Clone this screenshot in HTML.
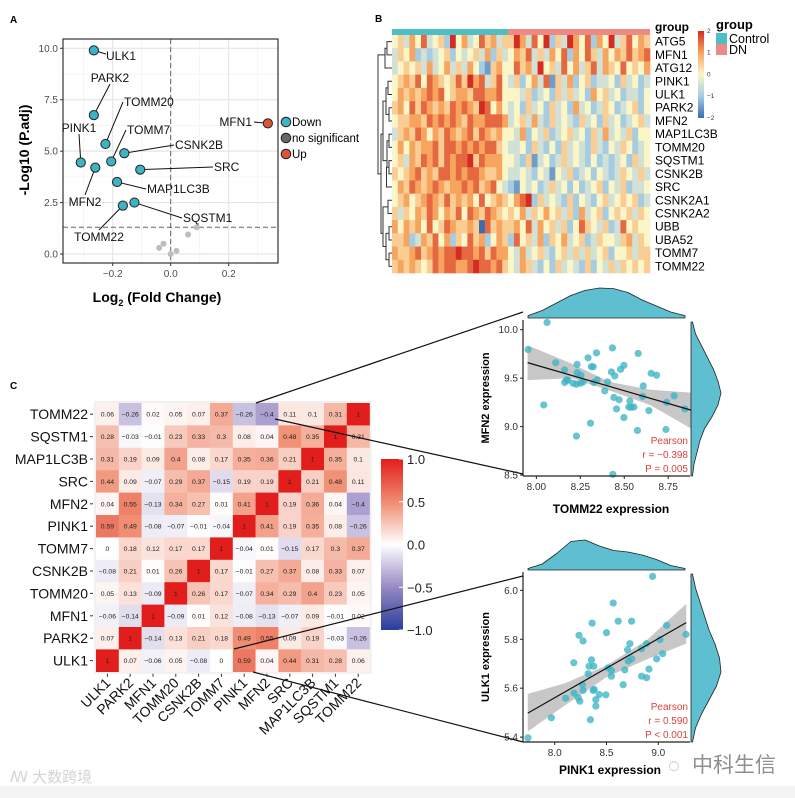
<!DOCTYPE html>
<html><head><meta charset="utf-8">
<style>
html,body{margin:0;padding:0;background:#fff;}
svg{display:block;font-family:"Liberation Sans","Noto Sans CJK SC",sans-serif;}
</style></head>
<body>
<svg id="fig" width="795" height="798" viewBox="0 0 795 798" xmlns="http://www.w3.org/2000/svg">
<rect x="0" y="0" width="795" height="798" fill="#fff"/>
<rect x="0" y="786" width="795" height="12" fill="#f3f3f3"/>
<g id="gA"></g>
<g id="gB"></g>
<g id="gC"></g>
<g id="gS1"></g>
<g id="gS2"></g>
<text x="668" y="772" font-size="20" fill="#9a9a9a">◌</text>
<text x="692" y="772" font-size="21" fill="#8f8f8f">中科生信</text>
<text x="10" y="782" font-size="15" fill="#d4d4d4">ꟿ 大数跨境</text>
</svg>
<script>
// ---------- Volcano data ----------
const volGenes = ["ULK1","PARK2","TOMM20","PINK1","MFN2","TOMM7","CSNK2B","SRC","MAP1LC3B","SQSTM1","TOMM22","MFN1"];
const volLogFC = [-0.265,-0.265,-0.225,-0.31,-0.26,-0.205,-0.16,-0.105,-0.185,-0.125,-0.165,0.335];
const volLogP = [9.9,6.75,5.35,4.45,4.2,4.5,4.9,4.1,3.5,2.5,2.35,6.35];
const volStatus = ["Down","Down","Down","Down","Down","Down","Down","Down","Down","Down","Down","Up"];
const nsLogFC = [0.09,0.06,-0.025,-0.04,0.02,0.0];
const nsLogP = [1.3,0.95,0.5,0.3,0.15,0.0];
const volXTicks = [-0.2,0.0,0.2];
const volYTicks = [0.0,2.5,5.0,7.5,10.0];
// ---------- Heatmap data (digit 0..8 -> z = (d-4)/2) ----------
const hmGenes = ["ATG5","MFN1","ATG12","PINK1","ULK1","PARK2","MFN2","MAP1LC3B","TOMM20","SQSTM1","CSNK2B","SRC","CSNK2A1","CSNK2A2","UBB","UBA52","TOMM7","TOMM22"];
const hmControl = ["45364734528463475635","35462323452434536253","34545363463536421564","45657476545758673574","46565676745665776674","56475765657676587464","45566576767657667776","35657646576567576564","46465667577676767754","45365767576778576664","54567565776767765564","46576567656676756743","45645676575656474565","53546576465747657654","64656474576556507565","55623657462547562465","65567567677877675766","56565457677667877675"];
const hmDN = ["586374825386472648357465","465735364726475364657567","475638453746357365474546","352463715362452334253423","443523425353426453423324","342534253426342354234524","345363253432534253423453","436243523453425363435244","334253242534325324354234","432513423534324232342534","334324314352342432354353","214342353424234524352334","467825343252432453454523","546354645352634524545354","564736453524754352374544","274536254634523544356354","436345324535353452445355","436532425343252435354545"];
// ---------- Correlation data ----------
const corrRows = ["TOMM22","SQSTM1","MAP1LC3B","SRC","MFN2","PINK1","TOMM7","CSNK2B","TOMM20","MFN1","PARK2","ULK1"];
const corrCols = ["ULK1","PARK2","MFN1","TOMM20","CSNK2B","TOMM7","PINK1","MFN2","SRC","MAP1LC3B","SQSTM1","TOMM22"];
const corrVals = [
[0.06,-0.26,0.02,0.05,0.07,0.37,-0.26,-0.4,0.11,0.1,0.31,1],
[0.28,-0.03,-0.01,0.23,0.33,0.3,0.08,0.04,0.48,0.35,1,0.31],
[0.31,0.19,0.09,0.4,0.08,0.17,0.35,0.36,0.21,1,0.35,0.1],
[0.44,0.09,-0.07,0.29,0.37,-0.15,0.19,0.19,1,0.21,0.48,0.11],
[0.04,0.55,-0.13,0.34,0.27,0.01,0.41,1,0.19,0.36,0.04,-0.4],
[0.59,0.49,-0.08,-0.07,-0.01,-0.04,1,0.41,0.19,0.35,0.08,-0.26],
[0,0.18,0.12,0.17,0.17,1,-0.04,0.01,-0.15,0.17,0.3,0.37],
[-0.08,0.21,0.01,0.26,1,0.17,-0.01,0.27,0.37,0.08,0.33,0.07],
[0.05,0.13,-0.09,1,0.26,0.17,-0.07,0.34,0.29,0.4,0.23,0.05],
[-0.06,-0.14,1,-0.09,0.01,0.12,-0.08,-0.13,-0.07,0.09,-0.01,0.02],
[0.07,1,-0.14,0.13,0.21,0.18,0.49,0.55,0.09,0.19,-0.03,-0.26],
[1,0.07,-0.06,0.05,-0.08,0,0.59,0.04,0.44,0.31,0.28,0.06]];
const corrLegendTicks = [1.0,0.5,0.0,-0.5,-1.0];
// ---------- Scatter 1 (TOMM22 vs MFN2) ----------
const s1X = [8.061,7.953,8.042,8.110,8.160,8.171,8.161,8.180,8.232,8.232,8.253,8.228,8.209,8.251,8.294,8.313,8.323,8.342,8.346,8.327,8.266,8.308,8.228,8.389,8.405,8.433,8.427,8.446,8.441,8.471,8.456,8.479,8.498,8.498,8.526,8.539,8.555,8.532,8.579,8.575,8.608,8.604,8.640,8.653,8.684,8.737,8.741,8.784,8.845,8.435];
const s1Y = [10.075,9.795,9.223,9.659,9.584,9.482,9.455,9.478,9.642,9.557,9.530,9.437,9.448,9.448,9.710,9.618,9.618,9.761,9.482,9.455,9.461,9.035,8.902,9.369,9.461,9.812,9.564,9.523,9.301,9.277,9.182,9.591,9.632,9.093,9.202,9.199,9.202,9.264,9.755,8.960,9.420,9.311,9.165,9.550,9.530,8.970,9.250,9.318,9.182,8.507];
const s1FitX = [7.95,8.88];
const s1FitY = [9.66,9.17];
const s1CiX = [7.95,8.2,8.42,8.65,8.88];
const s1CiHi = [9.84,9.65,9.46,9.38,9.35];
const s1CiLo = [9.48,9.50,9.37,9.22,8.98];
const s1XTicks = [8.00,8.25,8.50,8.75];
const s1YTicks = [8.5,9.0,9.5,10.0];
const s1TopDens = [0.08,0.25,0.5,0.75,0.92,1,0.98,0.85,0.6,0.4,0.2,0.08];
const s1RightDens = [0.05,0.15,0.35,0.55,0.75,0.9,1,0.9,0.7,0.45,0.3,0.2,0.1,0.05];
const s1Stats = ["Pearson","r = \u22120.398","P = 0.005"];
// ---------- Scatter 2 (PINK1 vs ULK1) ----------
const s2X = [8.945,8.565,8.613,8.742,8.361,8.235,8.274,8.5,9.081,9.268,9.016,8.887,8.726,8.839,8.703,9.042,8.984,8.742,8.710,8.355,8.184,8.332,8.377,8.516,8.548,8.677,8.910,8.323,8.548,8.839,8.887,8.661,8.268,8.274,8.371,8.381,8.187,8.226,8.106,8.242,8.429,8.494,8.397,8.397,8.345,7.968,7.742];
const s2Y = [6.057,5.948,5.874,5.874,5.866,5.816,5.793,5.827,5.857,5.820,5.798,5.782,5.782,5.761,5.757,5.741,5.720,5.720,5.711,5.716,5.704,5.690,5.690,5.683,5.673,5.675,5.678,5.659,5.649,5.649,5.643,5.614,5.614,5.591,5.591,5.595,5.580,5.561,5.559,5.547,5.574,5.573,5.553,5.527,5.471,5.479,5.397];
const s2FitX = [7.74,9.27];
const s2FitY = [5.498,5.868];
const s2CiX = [7.74,8.1,8.5,8.9,9.27];
const s2CiHi = [5.577,5.62,5.693,5.80,5.945];
const s2CiLo = [5.423,5.53,5.645,5.72,5.782];
const s2XTicks = [8.0,8.5,9.0];
const s2YTicks = [5.4,5.6,5.8,6.0];
const s2TopDens = [0.05,0.2,0.55,0.95,1,0.8,0.65,0.6,0.5,0.35,0.15,0.05];
const s2RightDens = [0.05,0.15,0.3,0.45,0.6,0.8,0.95,1,0.85,0.6,0.35,0.15,0.05];
const s2Stats = ["Pearson","r = 0.590","P < 0.001"];

const NS="http://www.w3.org/2000/svg";
function mk(parent,tag,attrs,txt){const e=document.createElementNS(NS,tag);for(const k in attrs)e.setAttribute(k,attrs[k]);if(txt!==undefined)e.textContent=txt;parent.appendChild(e);return e;}
function lin(d0,d1,r0,r1){return v=>r0+(v-d0)*(r1-r0)/(d1-d0);}

// ================= Panel A: volcano =================
(function(){
const g=document.getElementById('gA');
const L=63,R=278,T=39,B=263;
const xs=lin(0,0.2,170.7,228.7), ys=lin(0,10,254,48.3);
let t=mk(g,'text',{x:10,y:23,'font-size':10,'font-weight':'bold'},'A');

mk(g,'rect',{x:L,y:T,width:R-L,height:B-T,fill:'#fff'});
// minor grid
[-0.3,-0.1,0.1,0.3].forEach(v=>mk(g,'line',{x1:xs(v),x2:xs(v),y1:T,y2:B,stroke:'#f3f3f3','stroke-width':0.8}));
[1.25,3.75,6.25,8.75].forEach(v=>mk(g,'line',{x1:L,x2:R,y1:ys(v),y2:ys(v),stroke:'#f3f3f3','stroke-width':0.8}));
volXTicks.forEach(v=>{mk(g,'line',{x1:xs(v),x2:xs(v),y1:T,y2:B,stroke:'#e6e6e6','stroke-width':1.2});
 mk(g,'line',{x1:xs(v),x2:xs(v),y1:B,y2:B+3,stroke:'#333'});
 const e=mk(g,'text',{x:xs(v),y:B+14,'font-size':10,'text-anchor':'middle',fill:'#4d4d4d'},v===0?'0.0':(v>0?'0.2':'\u22120.2'));
 });
volYTicks.forEach(v=>{mk(g,'line',{x1:L,x2:R,y1:ys(v),y2:ys(v),stroke:'#e6e6e6','stroke-width':1.2});
 mk(g,'line',{x1:L-3,x2:L,y1:ys(v),y2:ys(v),stroke:'#333'});
 const e=mk(g,'text',{x:L-5,y:ys(v)+3.5,'font-size':10,'text-anchor':'end',fill:'#4d4d4d'},v.toFixed(1));
 });
mk(g,'line',{x1:xs(0),x2:xs(0),y1:T,y2:B,stroke:'#666','stroke-dasharray':'5,3'});
mk(g,'line',{x1:L,x2:R,y1:ys(1.3),y2:ys(1.3),stroke:'#666','stroke-dasharray':'5,3'});
mk(g,'rect',{x:L,y:T,width:R-L,height:B-T,fill:'none',stroke:'#333','stroke-width':1.2});
nsLogFC.forEach((v,i)=>{const c=mk(g,'circle',{cx:xs(v),cy:ys(nsLogP[i]),r:3,fill:'#bdbdbd'});
 });
// label offsets (dx,dy of label anchor relative to point, anchor)
const lab={ULK1:[12,8,'start',106,60],PARK2:[0,0,'middle',110,82],TOMM20:[0,0,'start',124,106],PINK1:[0,0,'middle',79,132],MFN2:[0,0,'middle',85,206],TOMM7:[0,0,'start',127,134],CSNK2B:[0,0,'start',175,149],SRC:[0,0,'start',214,171],MAP1LC3B:[0,0,'start',147,193],SQSTM1:[0,0,'start',183,222],TOMM22:[0,0,'middle',99,241],MFN1:[0,0,'end',252,126]};
volGenes.forEach((gname,i)=>{
 const px=xs(volLogFC[i]),py=ys(volLogP[i]);const l=lab[gname];
 const lx=l[3],ly=l[4];
 let ex=lx,ey=ly-4;
 if(l[2]==='middle'){ey=(ly>py)?ly-11:ly+2;}
 if(l[2]==='end'){ex=lx+2;ey=ly-4;}
 if(l[2]==='start'){ex=lx-1;}
 if(gname==='ULK1'){ex=lx;ey=ly-6;}
 mk(g,'line',{x1:px,y1:py,x2:ex,y2:ey,stroke:'#111','stroke-width':1});
 const c=mk(g,'circle',{cx:px,cy:py,r:4.6,fill:volStatus[i]==='Up'?'#d9553a':'#3cb4c4',stroke:'#222','stroke-width':1});
 
 const tt=mk(g,'text',{x:lx,y:ly,'font-size':12,'text-anchor':l[2],fill:'#111'},gname);
 
});
const legs=[['Down','#3cb4c4'],['no significant','#666'],['Up','#d9553a']];
legs.forEach((d,i)=>{const y=122+i*16;
 const c=mk(g,'circle',{cx:286,cy:y,r:4.8,fill:d[1],stroke:'#222'});
 
 const e=mk(g,'text',{x:292,y:y+4,'font-size':11.5},d[0]);
 });
let yt=mk(g,'text',{x:0,y:0,'font-size':14,'font-weight':'bold','text-anchor':'middle',transform:'translate(29,150) rotate(-90)'},'-Log10 (P.adj)');

let xt=mk(g,'text',{x:157,y:302,'font-size':14,'font-weight':'bold','text-anchor':'middle'});

mk(xt,'tspan',{},'Log');mk(xt,'tspan',{'font-size':9,dy:4},'2');mk(xt,'tspan',{dy:-4},' (Fold Change)');
})();

// ================= Panel B: heatmap =================
(function(){
const g=document.getElementById('gB');
let t=mk(g,'text',{x:375,y:22,'font-size':10,'font-weight':'bold'},'B');

const X0=392,X1=650,Y0=35,Y1=273,XM=508;
const rh=(Y1-Y0)/hmGenes.length;
const stops=[[-2,[58,108,176]],[-1,[166,204,226]],[0,[251,246,200]],[1,[247,164,94]],[2,[213,44,34]]];
function col(z){z=Math.max(-2,Math.min(2,z));for(let i=0;i<4;i++){const a=stops[i],b=stops[i+1];if(z<=b[0]){const f=(z-a[0])/(b[0]-a[0]);return 'rgb('+a[1].map((c,k)=>Math.round(c+(b[1][k]-c)*f)).join(',')+')';}}return 'rgb(213,44,34)';}
let ab=mk(g,'rect',{x:X0,y:29,width:XM-X0,height:6,fill:'#4fbfc4'});

ab=mk(g,'rect',{x:XM,y:29,width:X1-XM,height:6,fill:'#ee8a86'});

hmGenes.forEach((gn,r)=>{
 const y=Y0+r*rh;
 [[hmControl[r],X0,XM],[hmDN[r],XM,X1]].forEach(seg=>{
  const s=seg[0],w=(seg[2]-seg[1])/s.length;
  for(let j=0;j<s.length;j++){const z=(parseInt(s[j])-4)/2;
   const c=mk(g,'rect',{x:seg[1]+j*w,y:y,width:w+0.3,height:rh+0.3,fill:col(z)});
   }
 });
 const e=mk(g,'text',{x:655,y:y+rh/2+4,'font-size':12},gn);
 
});
let gl=mk(g,'text',{x:655,y:31,'font-size':12,'font-weight':'bold'},'group');

// dendrogram
const cy=i=>Y0+rh*(i+0.5);
const dg=mk(g,'g',{stroke:'#333','stroke-width':1,fill:'none'});

function br(a,b,x,xa,xb){mk(dg,'path',{d:`M${xa},${a}H${x}V${b}H${xb}`});}
br(cy(0),cy(1),387,392,392); br((cy(0)+cy(1))/2,cy(2),385,387,392);
br(cy(3),cy(4),388,392,392); br(cy(5),cy(6),389,392,392);
br((cy(3)+cy(4))/2,(cy(5)+cy(6))/2,386,388,389);
br(cy(7),cy(8),389,392,392); br(cy(9),cy(10),389,392,392);
br((cy(7)+cy(8))/2,(cy(9)+cy(10))/2,387,389,389);
br((cy(9)+cy(10))/2+0,cy(11),386.5,387,392);
br((cy(3)+cy(6))/2,(cy(7)+cy(11))/2,383,386,386.5);
br(cy(12),cy(13),388,392,392); br(cy(14),cy(15),389,392,392);
br(cy(16),cy(17),389,392,392); br((cy(14)+cy(15))/2,(cy(16)+cy(17))/2,386,389,389);
br((cy(12)+cy(13))/2,(cy(14)+cy(17))/2,383,388,386);
br((cy(3)+cy(11))/2,(cy(12)+cy(17))/2,381,383,383);
br((cy(0)+cy(2))/2,(cy(3)+cy(17))/2,378,385,381);
// colorbar
const cb=mk(g,'defs',{});const lg=mk(cb,'linearGradient',{id:'hmg',x1:0,y1:1,x2:0,y2:0});
[-2,-1,0,1,2].forEach((z,i)=>mk(lg,'stop',{offset:(i*25)+'%','stop-color':col(z)}));
let bar=mk(g,'rect',{x:698,y:31,width:6,height:87,fill:'url(#hmg)'});

[2,1,0,-1,-2].forEach((z,i)=>{const e=mk(g,'text',{x:707,y:33+i*21.7,'font-size':6.5,fill:'#333'},z<0?'\u2212'+(-z):String(z));
 });
let lt=mk(g,'text',{x:716,y:29,'font-size':13,'font-weight':'bold'},'group');

[['Control','#4fbfc4'],['DN','#ee8a86']].forEach((d,i)=>{
 const r=mk(g,'rect',{x:716,y:33+i*11,width:11,height:11,fill:d[1]});
 
 const e=mk(g,'text',{x:729,y:43+i*11,'font-size':12.5},d[0]);
 });
})();

// ================= Panel C: correlation =================
(function(){
const g=document.getElementById('gC');
let t=mk(g,'text',{x:10,y:389,'font-size':10,'font-weight':'bold'},'C');

const X0=96,Y0=403,cw=22.8,ch=22.4;
function ccol(v){const w=[255,255,255];let c;
 if(v>=0){const a=[240,140,112],b=[226,30,28];c=v<=0.5?w.map((x,k)=>x+(a[k]-x)*v/0.5):a.map((x,k)=>x+(b[k]-x)*(v-0.5)/0.5);}
 else{const a=[150,138,196],b=[42,60,156];const u=-v;c=u<=0.5?w.map((x,k)=>x+(a[k]-x)*u/0.5):a.map((x,k)=>x+(b[k]-x)*(u-0.5)/0.5);}
 return 'rgb('+c.map(Math.round).join(',')+')';}
mk(g,'rect',{x:X0-2,y:Y0-2,width:cw*12+4,height:ch*12+4,fill:'#f0f0f0'});
corrVals.forEach((row,i)=>{row.forEach((v,j)=>{
 const r=mk(g,'rect',{x:X0+j*cw,y:Y0+i*ch,width:cw+0.2,height:ch+0.2,fill:ccol(v)});
 
 const e=mk(g,'text',{x:X0+j*cw+cw/2,y:Y0+i*ch+ch/2+2.5,'font-size':6.8,'text-anchor':'middle',fill:'#222'},v===1?'1':String(v).replace('-','\u2212'));
 });});
corrRows.forEach((n,i)=>{const y=Y0+i*ch+ch/2;
 mk(g,'line',{x1:X0-6,x2:X0-3,y1:y,y2:y,stroke:'#333'});
 const e=mk(g,'text',{x:X0-8,y:y+5,'font-size':14,'text-anchor':'end',fill:'#111'},n);
 });
corrCols.forEach((n,j)=>{const x=X0+j*cw+cw/2;const yb=Y0+12*ch;
 mk(g,'line',{x1:x,x2:x,y1:yb+2,y2:yb+5,stroke:'#333'});
 const e=mk(g,'text',{x:0,y:0,'font-size':14,'text-anchor':'end',fill:'#111',transform:`translate(${x+4},${yb+12}) rotate(-45)`},n);
 });
const d=mk(g,'defs',{});const lg=mk(d,'linearGradient',{id:'cg',x1:0,y1:1,x2:0,y2:0});
[-1,-0.5,0,0.5,1].forEach((v,i)=>mk(lg,'stop',{offset:(i*25)+'%','stop-color':ccol(v)}));
const by=lin(1,-1,459,630);
let bar=mk(g,'rect',{x:381,y:459,width:22,height:171,fill:'url(#cg)'});

corrLegendTicks.forEach(v=>{const y=by(v);
 mk(g,'line',{x1:399,x2:403,y1:y,y2:y,stroke:'#fff'});
 const e=mk(g,'text',{x:407,y:y+5,'font-size':13,fill:'#222'},(v<0?'\u2212':'')+Math.abs(v).toFixed(1));
 });
// connectors
const cl=[[256,403,523,312],[275,419,523,474],[234,649,523,576],[253,672,523,742]];
cl.forEach(c=>{const l=mk(document.getElementById('fig'),'line',{x1:c[0],y1:c[1],x2:c[2],y2:c[3],stroke:'#111','stroke-width':1.2});
 });
})();

// ================= Scatter plots =================
function scatter(gid,cfg){
const g=document.getElementById(gid);
const {L,R,T,B,xd,yd,X,Y,fitX,fitY,ciX,ciHi,ciLo,xt,yt,xf,yf,topD,rightD,stats,xTitle,yTitle,xTitleX,xTitleY}=cfg;
const xs=lin(xd[0],xd[1],L,R), ys=lin(yd[0],yd[1],B,T);
mk(g,'rect',{x:L,y:T,width:R-L,height:B-T,fill:'#fff'});
let p='M'+ciX.map((x,i)=>xs(x)+','+ys(ciHi[i])).join('L')+'L'+ciX.slice().reverse().map((x,i)=>xs(x)+','+ys(ciLo[ciLo.length-1-i])).join('L')+'Z';
let ci=mk(g,'path',{d:p,fill:'#999','fill-opacity':0.55});

X.forEach((x,i)=>{const c=mk(g,'circle',{cx:xs(x),cy:ys(Y[i]),r:3.6,fill:'#3cb4c4','fill-opacity':0.78});
 });
let fl=mk(g,'line',{x1:xs(fitX[0]),y1:ys(fitY[0]),x2:xs(fitX[1]),y2:ys(fitY[1]),stroke:'#111','stroke-width':1.2});

mk(g,'line',{x1:L,x2:L,y1:T,y2:B,stroke:'#222','stroke-width':1.2});
mk(g,'line',{x1:L,x2:R,y1:B,y2:B,stroke:'#222','stroke-width':1.2});
xt.forEach(v=>{mk(g,'line',{x1:xs(v),x2:xs(v),y1:B,y2:B+3,stroke:'#222'});
 const e=mk(g,'text',{x:xs(v),y:B+14,'font-size':10,'text-anchor':'middle',fill:'#333'},v.toFixed(xf));
 });
yt.forEach(v=>{mk(g,'line',{x1:L-3,x2:L,y1:ys(v),y2:ys(v),stroke:'#222'});
 const e=mk(g,'text',{x:L-5,y:ys(v)+3.5,'font-size':10,'text-anchor':'end',fill:'#333'},v.toFixed(yf));
 });
stats.forEach((s,i)=>{const e=mk(g,'text',{x:R-2,y:B-32+i*14,'font-size':10,'text-anchor':'end',fill:'#d9413a'},s);
 });
let a=mk(g,'text',{x:0,y:0,'font-size':11,'font-weight':'bold','text-anchor':'middle',transform:`translate(${L-34},${(T+B)/2}) rotate(-90)`},yTitle);

a=mk(g,'text',{x:xTitleX,y:xTitleY,'font-size':12,'font-weight':'bold','text-anchor':'middle'},xTitle);

// top density
const tx0=L+5,tx1=R-5,tb=T-2,th=30;
let dp='M'+tx0+','+tb;topD.forEach((v,i)=>{dp+='L'+(tx0+(tx1-tx0)*i/(topD.length-1))+','+(tb-v*th);});dp+='L'+tx1+','+tb+'Z';
let dd=mk(g,'path',{d:dp,fill:'#5dbfd0',stroke:'#222','stroke-width':0.8,'stroke-linejoin':'round'});

const ry0=T+2,ry1=B,rx=R+1,rw=30;
dp='M'+rx+','+ry0;rightD.forEach((v,i)=>{dp+='L'+(rx+v*rw)+','+(ry0+(ry1-ry0)*i/(rightD.length-1));});dp+='L'+rx+','+ry1+'Z';
dd=mk(g,'path',{d:dp,fill:'#5dbfd0',stroke:'#222','stroke-width':0.8,'stroke-linejoin':'round'});

}
scatter('gS1',{L:523,R:690,T:320,B:476,xd:[7.924,8.874],yd:[8.49,10.10],X:s1X,Y:s1Y,fitX:s1FitX,fitY:s1FitY,ciX:s1CiX,ciHi:s1CiHi,ciLo:s1CiLo,xt:s1XTicks,yt:s1YTicks,xf:2,yf:1,topD:s1TopDens,rightD:s1RightDens,stats:s1Stats,xTitle:'TOMM22 expression',yTitle:'MFN2 expression',xTitleX:611,xTitleY:513});
scatter('gS2',{L:523,R:690,T:572,B:742,xd:[7.694,9.306],yd:[5.38,6.075],X:s2X,Y:s2Y,fitX:s2FitX,fitY:s2FitY,ciX:s2CiX,ciHi:s2CiHi,ciLo:s2CiLo,xt:s2XTicks,yt:s2YTicks,xf:1,yf:1,topD:s2TopDens,rightD:s2RightDens,stats:s2Stats,xTitle:'PINK1 expression',yTitle:'ULK1 expression',xTitleX:610,xTitleY:774});
</script>
</body></html>
